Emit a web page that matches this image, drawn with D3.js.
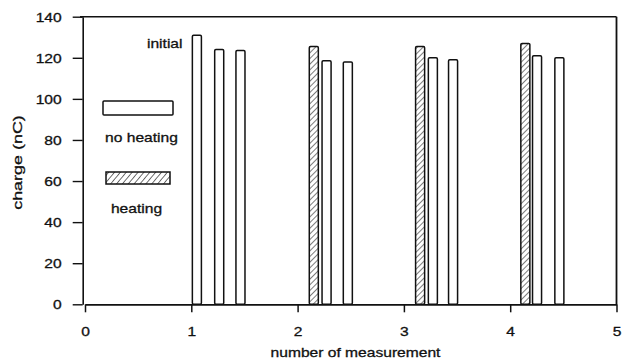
<!DOCTYPE html>
<html>
<head>
<meta charset="utf-8">
<script src="https://cdn.jsdelivr.net/npm/d3@7"></script>
<style>
  html, body { margin: 0; padding: 0; background: #fff; }
  svg { display: block; }
  text { font-family: "Liberation Sans", Arial, Helvetica, sans-serif; font-size: 13px; fill: #111; stroke: #111; stroke-width: 0.3px; }
</style>
</head>
<body>
<svg id="chart" width="627" height="361"></svg>
<script>
// Charge measured on successive runs; the first bar of runs 2-4 follows heating
const positions = [1.01, 1.22, 1.42, 2.11, 2.23, 2.43, 3.11, 3.23, 3.42, 4.10, 4.21, 4.42];
const charges   = [131, 124, 123.5, 125.5, 118.5, 118, 125.5, 120, 119, 127, 121, 120];
const heated    = [false, false, false, true, false, false, true, false, false, true, false, false];
const xTicks = [0, 1, 2, 3, 4, 5];
const yTicks = [0, 20, 40, 60, 80, 100, 120, 140];
const legendLabels = ["no heating", "heating"];
const barWidth = 0.085;

const svg = d3.select("#chart");
const ink = "#111";
const stretch = "scale(1.2,1)";

const x = d3.scaleLinear().domain([0, 5]).range([85, 616.5]);
const y = d3.scaleLinear().domain([0, 140]).range([304.3, 16.7]);

// diagonal hatch for heated runs
const defs = svg.append("defs");
const pat = defs.append("pattern")
  .attr("id", "hatch")
  .attr("patternUnits", "userSpaceOnUse")
  .attr("width", 4).attr("height", 4)
  .attr("patternTransform", "rotate(45)");
pat.append("rect").attr("width", 4).attr("height", 4).attr("fill", "#fff");
pat.append("line").attr("x1", 0).attr("y1", 0).attr("x2", 0).attr("y2", 4)
  .attr("stroke", ink).attr("stroke-width", 1.1);

const pat2 = defs.append("pattern")
  .attr("id", "hatchLegend")
  .attr("patternUnits", "userSpaceOnUse")
  .attr("width", 4.5).attr("height", 4.5)
  .attr("patternTransform", "rotate(40)");
pat2.append("rect").attr("width", 4.5).attr("height", 4.5).attr("fill", "#fff");
pat2.append("line").attr("x1", 0).attr("y1", 0).attr("x2", 0).attr("y2", 4.5)
  .attr("stroke", ink).attr("stroke-width", 1.2);

// frame: top and right edges
svg.append("line")
  .attr("x1", 80).attr("x2", x(5))
  .attr("y1", y(140)).attr("y2", y(140))
  .attr("stroke", ink).attr("stroke-width", 1.6);
svg.append("line")
  .attr("x1", x(5)).attr("x2", x(5))
  .attr("y1", y(140)).attr("y2", y(0))
  .attr("stroke", ink).attr("stroke-width", 1.8);

// bars
const bars = positions.map((p, i) => ({ p, v: charges[i], h: heated[i] }));
svg.append("g").selectAll("rect")
  .data(bars)
  .join("rect")
  .attr("x", d => x(d.p))
  .attr("y", d => y(d.v))
  .attr("width", x(barWidth) - x(0))
  .attr("height", d => y(0) - y(d.v))
  .attr("rx", 1.2)
  .attr("fill", d => d.h ? "url(#hatch)" : "#fff")
  .attr("stroke", ink)
  .attr("stroke-width", 1.5);

// y axis
const yAxis = svg.append("g")
  .attr("transform", "translate(82.7,0)")
  .call(d3.axisLeft(y).tickValues(yTicks).tickFormat(d3.format("d"))
    .tickSize(10).tickSizeOuter(0).tickPadding(11));
yAxis.select(".domain").attr("stroke", ink).attr("stroke-width", 1.6);
yAxis.selectAll(".tick line").attr("stroke", ink).attr("stroke-width", 1.4);
yAxis.selectAll(".tick text").each(function () {
  const t = d3.select(this);
  const tx = +t.attr("x");
  t.attr("x", 0).attr("dy", "0.36em")
    .attr("transform", `translate(${tx},0) ${stretch}`)
    .attr("font-size", 13).attr("font-family", null);
});

// x axis
const xAxis = svg.append("g")
  .attr("transform", `translate(0,${y(0)})`)
  .call(d3.axisBottom(x).tickValues(xTicks).tickFormat(d3.format("d"))
    .tickSize(8).tickSizeOuter(0).tickPadding(14));
xAxis.select(".domain").attr("stroke", ink).attr("stroke-width", 1.8);
xAxis.selectAll(".tick line").attr("stroke", ink).attr("stroke-width", 1.5);
xAxis.selectAll(".tick text").each(function () {
  const t = d3.select(this);
  const ty = +t.attr("y");
  t.attr("y", 0).attr("transform", `translate(0,${ty}) ${stretch}`)
    .attr("font-size", 13).attr("font-family", null);
});

// legend
svg.append("rect")
  .attr("x", 103).attr("y", 101).attr("width", 70).attr("height", 14)
  .attr("rx", 1).attr("fill", "#fff").attr("stroke", ink).attr("stroke-width", 1.5);
svg.append("text")
  .attr("text-anchor", "middle")
  .attr("transform", `translate(141.5,141.5) ${stretch}`)
  .text(legendLabels[0]);
svg.append("rect")
  .attr("x", 106).attr("y", 172).attr("width", 64).attr("height", 12)
  .attr("fill", "url(#hatchLegend)").attr("stroke", ink).attr("stroke-width", 1.5);
svg.append("text")
  .attr("text-anchor", "middle")
  .attr("transform", `translate(136.5,213) ${stretch}`)
  .text(legendLabels[1]);

// annotation on the first measurement
svg.append("text")
  .attr("text-anchor", "end")
  .attr("transform", `translate(182.5,48) ${stretch}`)
  .text("initial");

// axis titles
svg.append("text")
  .attr("text-anchor", "middle")
  .attr("transform", `translate(355.5,357) ${stretch}`)
  .text("number of measurement");
svg.append("text")
  .attr("text-anchor", "middle")
  .attr("transform", "translate(22,162.5) rotate(-90) scale(1.38,1)")
  .text("charge (nC)");
</script>
</body>
</html>
